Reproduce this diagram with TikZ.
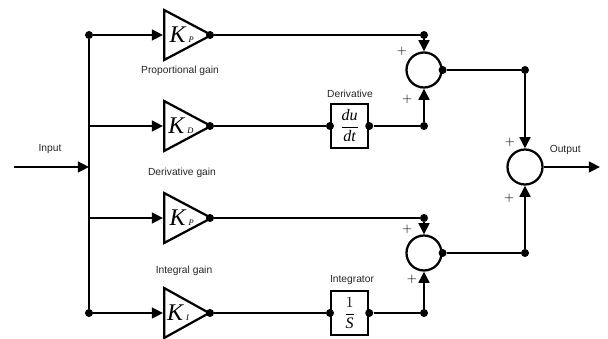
\documentclass[tikz,border=0pt]{standalone}
\usepackage{fontspec}
\setmainfont{Liberation Serif}
\newfontfamily\labelfont{Liberation Sans}
\usetikzlibrary{arrows.meta,shapes.geometric}
\newcommand{\gainsub}[1]{\kern2.2pt{\fontsize{6}{6}\selectfont #1}}
\begin{document}
\begin{tikzpicture}[
    amp/.style={isosceles triangle, draw, line width=1.6pt, isosceles triangle stretches, minimum width=1.25cm, minimum height=1.125cm, inner sep=0pt, anchor=west, font=\itshape\fontsize{17}{17}\selectfont},
    sumnode/.style={circle, draw, line width=1.6pt, minimum size=0.875cm, inner sep=0pt},
    block/.style={rectangle, draw, line width=1.6pt, minimum width=0.925cm, minimum height=1.1cm, inner sep=0pt, font=\fontsize{11.4}{13}\selectfont},
    junction/.style={circle, fill=black, minimum size=0.2cm, inner sep=0pt},
    caption/.style={font=\labelfont\fontsize{7.3}{9}\selectfont, text=black!85},
    plus/.style={font=\fontsize{9.5}{10}\selectfont},
    wire/.style={line width=1.6pt},
    arrow/.style={line width=1.6pt, -{Triangle[length=0.28cm,width=0.27cm]}}
]
\useasboundingbox (0,0) rectangle (15.2,8.45);

% Input bus
\node[junction] (bustop) at (2.225,7.575) {};
\node[junction] (busbot) at (2.225,0.625) {};
\coordinate (busd) at (2.225,5.3);
\coordinate (busp) at (2.225,3.0);
\coordinate (busin) at (2.225,4.275);
\coordinate (instart) at (0.35,4.275);
\draw[line width=2pt] (bustop) -- (busbot);
\draw[arrow] (instart) -- (busin);

% Gains
\node[amp] (kp1) at (4.075,7.575) {\kern3pt K\gainsub{P}};
\node[amp] (kd) at (4.075,5.3) {\kern2pt K\gainsub{D}};
\node[amp] (kp2) at (4.075,3.0) {\kern3pt K\gainsub{P}};
\node[amp] (ki) at (4.075,0.625) {K\gainsub{I}};
\node[junction] (kp1out) at (5.25,7.575) {};
\node[junction] (kdout) at (5.25,5.3) {};
\node[junction] (kp2out) at (5.25,3.0) {};
\node[junction] (kiout) at (5.25,0.625) {};

% Blocks
\node[block] (deriv) at (8.74,5.3) {$\displaystyle\frac{\textit{du}}{\textit{dt}}$};
\node[block] (integ) at (8.74,0.625) {$\displaystyle\frac{1}{\textit{S}}$};
\node[junction] (derivin) at (deriv.west) {};
\node[junction] (derivout) at (deriv.east) {};
\node[junction] (integin) at (integ.west) {};
\node[junction] (integout) at (integ.east) {};

% Summing points
\node[sumnode] (sumtop) at (10.6,6.7) {};
\node[sumnode] (sumbot) at (10.6,2.125) {};
\node[sumnode] (sumout) at (13.125,4.275) {};
\node[junction] (sumtopout) at (sumtop.east) {};
\node[junction] (sumbotout) at (sumbot.east) {};
\node[junction] (jp1) at (10.6,7.575) {};
\node[junction] (jd) at (10.6,5.3) {};
\node[junction] (jp2) at (10.6,3.0) {};
\node[junction] (ji) at (10.6,0.625) {};
\node[junction] (jtop) at (13.125,6.7) {};
\node[junction] (jbot) at (13.125,2.125) {};
\coordinate (outend) at (15.0,4.275);

% Branches
\draw[arrow] (bustop) -- (kp1.west);
\draw[arrow] (busd) -- (kd.west);
\draw[arrow] (busp) -- (kp2.west);
\draw[arrow] (busbot) -- (ki.west);
\draw[wire] (kp1out) -- (jp1);
\draw[wire] (kdout) -- (derivin);
\draw[wire] (derivout) -- (jd);
\draw[wire] (kp2out) -- (jp2);
\draw[wire] (kiout) -- (integin);
\draw[wire] (integout) -- (ji);
\draw[arrow] (jp1) -- (sumtop);
\draw[arrow] (jd) -- (sumtop);
\draw[arrow] (jp2) -- (sumbot);
\draw[arrow] (ji) -- (sumbot);
\draw[wire] (sumtopout) -- (jtop);
\draw[wire] (sumbotout) -- (jbot);
\draw[arrow] (jtop) -- (sumout);
\draw[arrow] (jbot) -- (sumout);
\draw[arrow] (sumout) -- (outend);

% Text labels
\node[caption] (inputlabel) at (1.25,4.73) {Input};
\node[caption] (outputlabel) at (14.13,4.7) {Output};
\node[caption] (gainp1) at (4.5,6.67) {Proportional gain};
\node[caption] (gaind) at (4.55,4.13) {Derivative gain};
\node[caption] (gaini) at (4.6,1.67) {Integral gain};
\node[caption] (derivlabel) at (8.75,6.1) {Derivative};
\node[caption] (integlabel) at (8.8,1.45) {Integrator};

% Signs
\node[plus] (plus1) at (10.05,7.17) {$+$};
\node[plus] (plus2) at (10.18,5.97) {$+$};
\node[plus] (plus3) at (10.18,2.72) {$+$};
\node[plus] (plus4) at (10.3,1.47) {$+$};
\node[plus] (plus5) at (12.75,4.9) {$+$};
\node[plus] (plus6) at (12.73,3.48) {$+$};

\end{tikzpicture}
\end{document}
